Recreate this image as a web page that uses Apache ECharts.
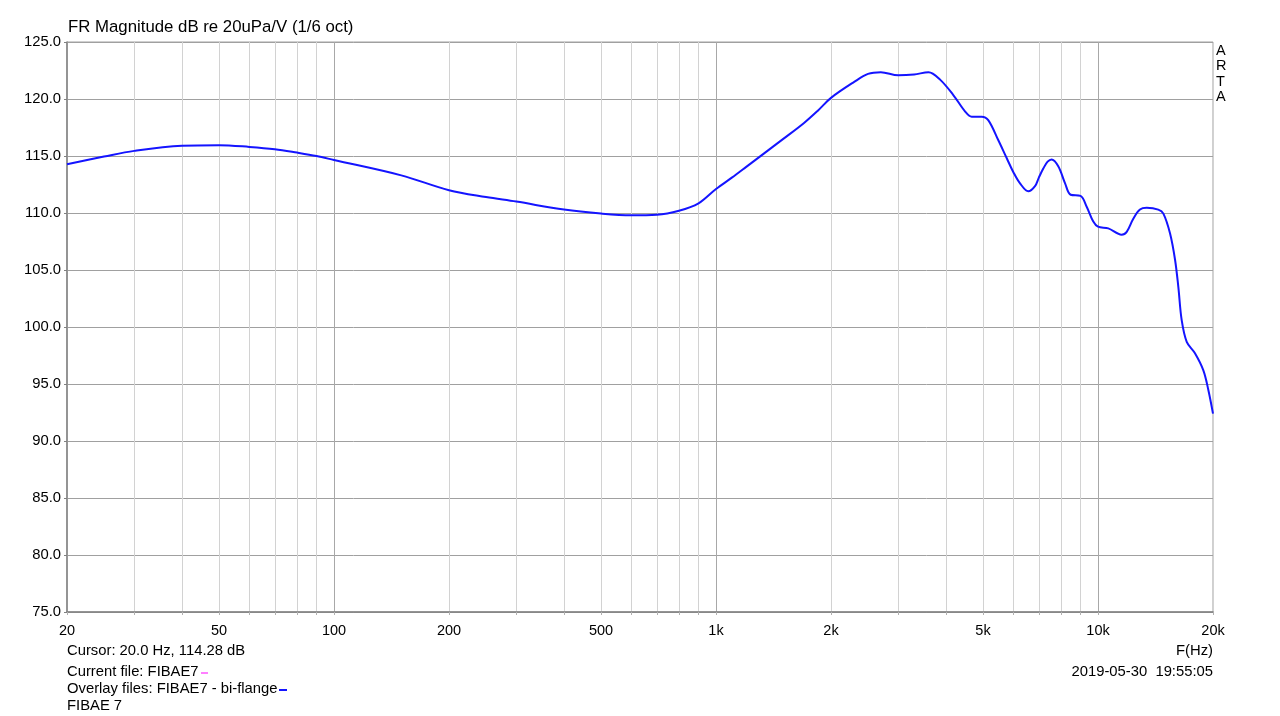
<!DOCTYPE html>
<html>
<head>
<meta charset="utf-8">
<script src="https://cdn.jsdelivr.net/npm/echarts@6/dist/echarts.min.js"></script>
<style>
  html, body { margin: 0; padding: 0; background: #fff; }
  #chart { width: 1280px; height: 716px; }
</style>
</head>
<body>
<div id="chart"></div>
<script>
// Frequency (Hz) and magnitude (dB)
const freqs = [20, 25, 30, 40, 50, 60, 70, 80, 90, 100, 150, 200, 250, 300, 400, 500, 600, 700, 800, 900,
  1000, 1100, 1200, 1500, 1700, 1850, 2000, 2300, 2500, 2700, 3000, 3300, 3600, 3860, 4180, 4490, 4670, 4960, 5160,
  5480, 5770, 6000, 6250, 6570, 6840, 7000, 7190, 7380, 7560, 7870, 8200, 8480, 9000, 9340, 9720, 10000,
  10640, 11530, 11890, 12370, 12880, 13410, 14380, 14830, 15440, 15910, 16230, 16560, 17070, 17940,
  18870, 19440, 20000];
const magnitudes = [114.28, 114.95, 115.45, 115.9, 115.95, 115.8, 115.6, 115.3, 115.0, 114.65, 113.3, 112.0,
  111.4, 111.0, 110.3, 109.95, 109.8, 109.85, 110.2, 110.85,
  112.1, 113.1, 114.05, 116.5, 117.9, 119.0, 120.1, 121.5, 122.2, 122.35, 122.08, 122.15, 122.35, 121.7, 120.35, 118.9,
  118.45, 118.45, 118.15, 116.4, 114.8, 113.6, 112.6, 111.9, 112.35, 113.1, 113.9, 114.5, 114.7, 114.1, 112.6,
  111.6, 111.5, 110.55, 109.25, 108.8, 108.65, 108.1, 108.35, 109.5, 110.3, 110.45, 110.3, 109.95, 108.2,
  105.9, 103.5, 100.6, 98.7, 97.7, 96.2, 94.5, 92.4];
const xLabelValues = [20, 50, 100, 200, 500, 1000, 2000, 5000, 10000, 20000];
const xMinorValues = [20, 30, 40, 50, 60, 70, 80, 90, 100, 200, 300, 400, 500, 600, 700, 800, 900,
  1000, 2000, 3000, 4000, 5000, 6000, 7000, 8000, 9000, 10000, 20000];
const xMajorValues = [100, 1000, 10000];

const titleText = 'FR Magnitude dB re 20uPa/V (1/6 oct)';
const cursorText = 'Cursor: 20.0 Hz, 114.28 dB';
const currentFileText = 'Current file: FIBAE7';
const overlayText = 'Overlay files: FIBAE7 - bi-flange';
const nameText = 'FIBAE 7';
const dateText = '2019-05-30  19:55:05';
const xUnitText = 'F(Hz)';
const sideText = 'ARTA';

const FONT = '"Liberation Sans", Arial, sans-serif';
const chart = echarts.init(document.getElementById('chart'), null, { renderer: 'canvas' });

function fmtFreq(v) {
  return v >= 1000 ? (v / 1000) + 'k' : String(v);
}

const option = {
  animation: false,
  backgroundColor: '#ffffff',
  grid: {
    left: 67, right: 67, top: 42, bottom: 104,
    show: true, borderColor: '#a0a0a0', borderWidth: 1, backgroundColor: 'transparent'
  },
  xAxis: [
    {
      type: 'log', logBase: 10, min: 20, max: 20000,
      axisLine: { show: true, onZero: false, lineStyle: { color: '#808080', width: 1.5 } },
      axisTick: { show: true, length: 3, customValues: xMinorValues, lineStyle: { color: '#b0b0b0' } },
      axisLabel: {
        customValues: xLabelValues, formatter: fmtFreq, margin: 11,
        color: '#000', fontFamily: FONT, fontSize: 14.5
      },
      splitLine: { show: true, lineStyle: { color: '#d2d2d2', width: 1 } }
    },
    {
      type: 'log', logBase: 10, min: 20, max: 20000, position: 'bottom',
      axisLine: { show: false },
      axisTick: { show: false, customValues: xMajorValues },
      axisLabel: { show: false, customValues: xMajorValues },
      splitLine: { show: true, lineStyle: { color: '#a8a8a8', width: 1 } }
    }
  ],
  yAxis: {
    type: 'value', min: 75, max: 125, interval: 5,
    axisLine: { show: true, lineStyle: { color: '#808080', width: 1.5 } },
    axisTick: { show: true, length: 3, inside: false, lineStyle: { color: '#808080' } },
    axisLabel: {
      formatter: v => v.toFixed(1), margin: 6,
      color: '#000', fontFamily: FONT, fontSize: 14.8
    },
    splitLine: { show: true, lineStyle: { color: '#a0a0a0', width: 1 } }
  },
  series: [{
    type: 'line',
    xAxisIndex: 0,
    data: freqs.map((f, i) => [f, magnitudes[i]]),
    showSymbol: false,
    smooth: 0.35,
    lineStyle: { color: '#1414ff', width: 2 },
    z: 5
  }],
  graphic: [
    { type: 'text', left: 68, top: 19, style: { text: titleText, font: '16.8px ' + FONT, fill: '#000' } },
    { type: 'text', left: 67, top: 643, style: { text: cursorText, font: '14.8px ' + FONT, fill: '#000' } },
    { type: 'text', left: 67, top: 664, style: { text: currentFileText, font: '14.8px ' + FONT, fill: '#000' } },
    { type: 'rect', shape: { x: 201, y: 672, width: 7, height: 2 }, style: { fill: '#ff80ff' } },
    { type: 'text', left: 67, top: 681, style: { text: overlayText, font: '14.8px ' + FONT, fill: '#000' } },
    { type: 'rect', shape: { x: 279, y: 689, width: 8, height: 2 }, style: { fill: '#1414ff' } },
    { type: 'text', left: 67, top: 698, style: { text: nameText, font: '14.8px ' + FONT, fill: '#000' } },
    { type: 'text', right: 67, top: 664, style: { text: dateText, font: '14.8px ' + FONT, fill: '#000' } },
    { type: 'text', right: 67, top: 643, style: { text: xUnitText, font: '14.8px ' + FONT, fill: '#000' } },
    {
      type: 'text', left: 1216, top: 43,
      style: { text: sideText.split('').join('\n'), font: '14.5px ' + FONT, fill: '#000', lineHeight: 15.5 }
    }
  ]
};
chart.setOption(option);
</script>
</body>
</html>
